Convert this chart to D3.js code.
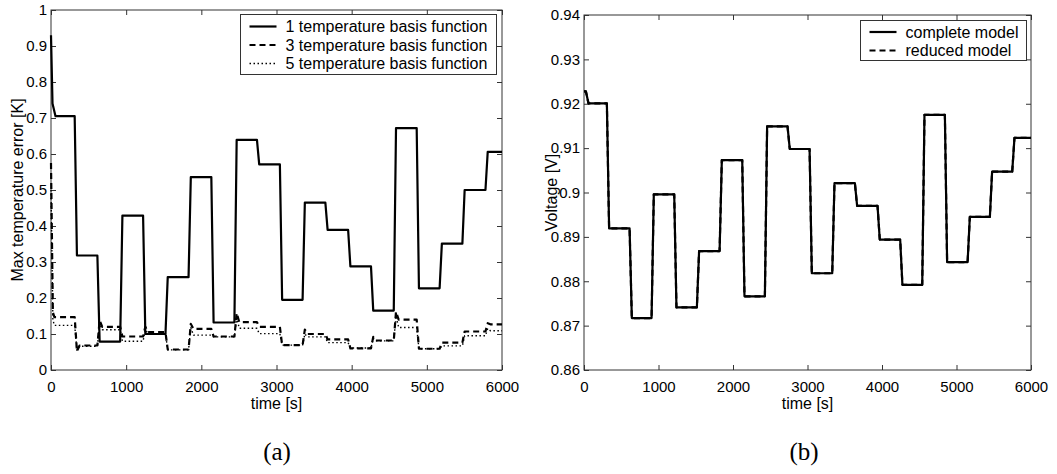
<!DOCTYPE html>
<html>
<head>
<meta charset="utf-8">
<script src="https://cdn.jsdelivr.net/npm/d3@7"></script>
<style>
  body { margin: 0; background: #fff; }
  svg { display: block; font-family: "Liberation Sans", Arial, Helvetica, sans-serif; }
  .tick text { fill: #000; }
</style>
</head>
<body>
<div id="anchor-point"></div>
<script>
// two matlab-style panels: (a) temperature error, (b) cell voltage

//// data ////
const xTicks = [0, 1000, 2000, 3000, 4000, 5000, 6000];
const yTicksA = [0, 0.1, 0.2, 0.3, 0.4, 0.5, 0.6, 0.7, 0.8, 0.9, 1];
const yTicksB = [0.86, 0.87, 0.88, 0.89, 0.9, 0.91, 0.92, 0.93, 0.94];

// load changes (s)
const switchesA = [330, 632, 935, 1240, 1538, 1845, 2148, 2455, 2755, 3060, 3362, 3665, 3968, 4272, 4575, 4880, 5185, 5488, 5795];
const switchesB = [322, 627, 922, 1226, 1530, 1835, 2139, 2443, 2747, 3043, 3347, 3651, 3955, 4259, 4555, 4859, 5164, 5463, 5763];

// (a) 1 temperature basis function
const basis1StartT = [0, 20, 60];
const basis1StartV = [0.93, 0.74, 0.705];
const basis1 = [0.705, 0.318, 0.079, 0.429, 0.100, 0.258, 0.536, 0.132, 0.639, 0.571,
                0.195, 0.465, 0.389, 0.288, 0.165, 0.672, 0.227, 0.351, 0.500, 0.606];

// (a) 3 temperature basis function
const basis3StartT = [0, 25, 45];
const basis3StartV = [0.575, 0.16, 0.147];
const basis3 = [0.147, 0.068, 0.120, 0.093, 0.105, 0.057, 0.114, 0.093, 0.133, 0.120,
                0.069, 0.100, 0.085, 0.060, 0.082, 0.140, 0.059, 0.076, 0.107, 0.127];
const basis3Peaks = [0.052, 0.138, null, 0.120, null, 0.128, null, 0.158, null, null,
                     0.112, null, null, 0.092, 0.162, null, null, null, 0.130];

// (a) 5 temperature basis function
const basis5StartT = [0, 25, 45];
const basis5StartV = [0.5, 0.14, 0.124];
const basis5 = [0.124, 0.066, 0.112, 0.080, 0.101, 0.056, 0.097, 0.092, 0.116, 0.101,
                0.069, 0.092, 0.076, 0.061, 0.081, 0.118, 0.059, 0.067, 0.095, 0.109];
const basis5Peaks = [0.055, 0.128, null, 0.112, null, 0.118, null, 0.145, null, null,
                     0.100, null, null, 0.088, 0.150, null, null, null, 0.115];

// (b) voltage
const completeStartT = [0, 25, 60];
const completeStartV = [0.9228, 0.9228, 0.9201];
const complete = [0.9201, 0.8919, 0.8717, 0.8996, 0.8741, 0.8868, 0.9073, 0.8766, 0.9149, 0.9098,
                  0.8818, 0.9021, 0.8970, 0.8894, 0.8792, 0.9175, 0.8843, 0.8945, 0.9047, 0.9123];
const reducedStartT = [0, 25, 60];
const reducedStartV = [0.9228, 0.9228, 0.9201];
const reduced = [0.9201, 0.8919, 0.8717, 0.8996, 0.8741, 0.8868, 0.9073, 0.8766, 0.9149, 0.9098,
                 0.8818, 0.9021, 0.8970, 0.8894, 0.8792, 0.9175, 0.8843, 0.8945, 0.9047, 0.9123];

const legendA = ["1 temperature basis function", "3 temperature basis function", "5 temperature basis function"];
const legendB = ["complete model", "reduced model"];

//// styles ////
const styles = {
  solid: { width: 2.2, dash: null },
  dashed: { width: 2.2, dash: "6,4" },
  dotted: { width: 1.4, dash: "1.5,2.5" }
};

const width = 1057, height = 474;
const svg = d3.select("#anchor-point").append("svg")
  .attr("width", width).attr("height", height);

// build a step trace: a short start transient, then levels between the switches
function stepPoints(startT, startV, levels, switches, peaks) {
  const pts = startT.map((t, i) => [t, startV[i]]);
  const half = 15;
  levels.forEach((v, i) => {
    if (i > 0) {
      const s = switches[i - 1];
      const p = peaks ? peaks[i - 1] : null;
      if (p != null) {
        pts.push([s + half, p]);
        pts.push([s + 50, v]);
      } else {
        pts.push([s + half, v]);
      }
    }
    const end = i < switches.length ? switches[i] - half : 6000;
    pts.push([end, v]);
  });
  return pts;
}

function panel(opts) {
  const x = d3.scaleLinear().domain([0, 6000]).range([opts.left, opts.right]);
  const y = d3.scaleLinear().domain(opts.yDomain).range([opts.bottom, opts.top]);
  const g = svg.append("g");

  // ticks on all four sides, pointing inwards
  g.append("g").attr("transform", `translate(0,${opts.bottom})`)
    .call(d3.axisBottom(x).tickValues(xTicks).tickSizeInner(-5).tickSizeOuter(0)
      .tickPadding(11).tickFormat(d3.format("d")));
  g.append("g").attr("transform", `translate(0,${opts.top})`)
    .call(d3.axisTop(x).tickValues(xTicks).tickSizeInner(-5).tickSizeOuter(0).tickFormat(""));
  g.append("g").attr("transform", `translate(${opts.left},0)`)
    .call(d3.axisLeft(y).tickValues(opts.yTicks).tickSizeInner(-5).tickSizeOuter(0)
      .tickPadding(4).tickFormat(d3.format("~g")));
  g.append("g").attr("transform", `translate(${opts.right},0)`)
    .call(d3.axisRight(y).tickValues(opts.yTicks).tickSizeInner(-5).tickSizeOuter(0).tickFormat(""));

  g.selectAll(".domain").remove();
  g.selectAll(".tick line").attr("stroke", "#333");
  g.selectAll(".tick text").attr("font-size", 15).attr("font-family", "Liberation Sans, Arial, sans-serif");

  g.append("rect")
    .attr("x", opts.left).attr("y", opts.top)
    .attr("width", opts.right - opts.left).attr("height", opts.bottom - opts.top)
    .attr("fill", "none").attr("stroke", "#333").attr("stroke-width", 1);

  const line = d3.line().x(d => x(d[0])).y(d => y(d[1]));
  opts.series.forEach(s => {
    const st = styles[s.style];
    g.append("path")
      .attr("d", line(s.points))
      .attr("fill", "none")
      .attr("stroke", "#000")
      .attr("stroke-width", st.width)
      .attr("stroke-linejoin", "round")
      .attr("stroke-dasharray", st.dash);
  });

  // axis labels
  g.append("text")
    .attr("x", (opts.left + opts.right) / 2).attr("y", opts.bottom + 39)
    .attr("text-anchor", "middle").attr("font-size", 16)
    .text("time [s]");
  g.append("text")
    .attr("transform", `translate(${opts.yLabelX},${(opts.top + opts.bottom) / 2}) rotate(-90)`)
    .attr("text-anchor", "middle").attr("font-size", 16)
    .text(opts.yLabel);

  // legend
  const lg = opts.legend;
  g.append("rect")
    .attr("x", lg.x).attr("y", lg.y).attr("width", lg.w).attr("height", lg.h)
    .attr("fill", "#fff").attr("stroke", "#333").attr("stroke-width", 1);
  lg.labels.forEach((label, i) => {
    const st = styles[opts.series[i].style];
    const yy = lg.y + lg.first + i * lg.step;
    g.append("line")
      .attr("x1", lg.x + 9).attr("x2", lg.x + 36).attr("y1", yy).attr("y2", yy)
      .attr("stroke", "#000").attr("stroke-width", st.width).attr("stroke-dasharray", st.dash);
    g.append("text")
      .attr("x", lg.x + 45).attr("y", yy).attr("dy", "0.35em")
      .attr("font-size", 16).text(label);
  });

  // panel caption
  svg.append("text")
    .attr("x", opts.caption.x).attr("y", 460)
    .attr("text-anchor", "middle")
    .attr("font-family", "Liberation Serif, Times New Roman, serif")
    .attr("font-size", 25)
    .text(opts.caption.text);
}

panel({
  left: 51, right: 502, top: 10, bottom: 370,
  yDomain: [0, 1], yTicks: yTicksA,
  yLabel: "Max temperature error [K]", yLabelX: 23,
  series: [
    { style: "solid", points: stepPoints(basis1StartT, basis1StartV, basis1, switchesA, null) },
    { style: "dashed", points: stepPoints(basis3StartT, basis3StartV, basis3, switchesA, basis3Peaks) },
    { style: "dotted", points: stepPoints(basis5StartT, basis5StartV, basis5, switchesA, basis5Peaks) }
  ],
  legend: { x: 240.5, y: 14.5, w: 256, h: 60, first: 12, step: 18.5, labels: legendA },
  caption: { x: 277, text: "(a)" }
});

panel({
  left: 584, right: 1031, top: 15, bottom: 370,
  yDomain: [0.86, 0.94], yTicks: yTicksB,
  yLabel: "Voltage [V]", yLabelX: 557,
  series: [
    { style: "solid", points: stepPoints(completeStartT, completeStartV, complete, switchesB, null) },
    { style: "dashed", points: stepPoints(reducedStartT, reducedStartV, reduced, switchesB, null) }
  ],
  legend: { x: 860.5, y: 20.5, w: 166, h: 40, first: 11.5, step: 18.5, labels: legendB },
  caption: { x: 804, text: "(b)" }
});
</script>
</body>
</html>
